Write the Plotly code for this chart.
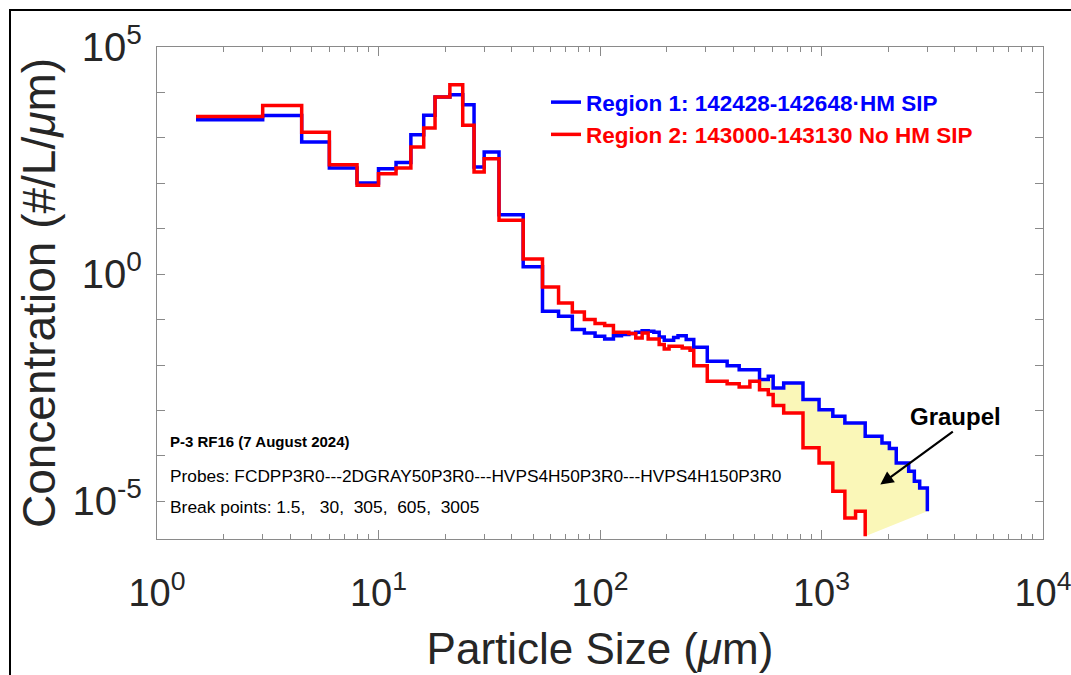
import math
import plotly.graph_objects as go

# ---------------- data ----------------
# bin lower edges (um); last entry of each *_edges list is the final edge
fcdp_edges = [1.5, 3, 4.5, 6, 8, 10, 12, 14, 16, 18, 21, 24, 27]
gray_edges = [30, 35, 45, 55, 65, 75, 85, 95, 105, 115, 125, 135, 145, 155,
              165, 175, 185, 195, 205, 215, 225, 235, 245, 255, 265, 275, 285, 295]
hvps50_edges = [305, 375, 425, 475, 525, 575]
hvps150_edges = [605, 675, 825, 975, 1125, 1275, 1425, 1575, 1725, 1875,
                 2025, 2175, 2325, 2475, 2625, 2775, 2925]
blue_end_edge = 3005
red_end_edge = 1575

# Region 1 (blue) concentrations (#/L/um)
blue_fcdp = [2500, 3100, 811, 217, 102, 210, 288, 1175, 3126, 7943, 8919, 5375, 229]
blue_gray = [489, 20.4, 1.45, 0.152, 0.118, 0.0601, 0.0508, 0.0428, 0.0375, 0.0443,
             0.0467, 0.0491, 0.0524, 0.0571, 0.0551, 0.0524, 0.0415, 0.0349, 0.0349,
             0.0401, 0.0443, 0.0443, 0.0362, 0.0362, 0.0245, 0.0245, 0.0245, 0.0245]
blue_hvps50 = [0.01205, 0.00968, 0.00791, 0.00791, 0.00477, 0.00564]
blue_hvps150 = [0.00313, 0.00404, 0.00173, 0.00104, 0.000743, 0.000531, 0.000531,
                0.000269, 0.000269, 0.000193, 0.000145, 7.0e-5, 7.0e-5, 4.57e-5,
                2.75e-5, 1.97e-5, 1.97e-5]
blue_end = 6.0e-6

# Region 2 (red) concentrations (#/L/um)
red_fcdp = [2970, 5188, 1321, 257, 90, 163, 217, 630, 1649, 7943, 14800, 1883, 177]
red_gray = [348, 15.3, 2.16, 0.523, 0.232, 0.147, 0.0998, 0.0815, 0.0736, 0.0524,
            0.0524, 0.0491, 0.0394, 0.0508, 0.0375, 0.0375, 0.0281, 0.0226, 0.0258,
            0.0258, 0.0258, 0.0238, 0.0238, 0.0210, 0.00968, 0.00968, 0.00968, 0.00968]
red_hvps50 = [0.00438, 0.00389, 0.00329, 0.00438, 0.00287, 0.00223]
red_hvps150 = [0.00128, 0.000881, 0.000150, 7.0e-5, 1.66e-5, 4.31e-6, 6.0e-6]
red_end = 1.7e-6

graupel_start_edge = 525
graupel_arrow_tip = (1843, 2.33e-5)   # (size um, concentration)

blue_name = "Region 1: 142428-142648\u00b7HM SIP"
red_name = "Region 2: 143000-143130 No HM SIP"

x_tickvals = [1, 10, 100, 1000, 10000]
x_ticktext = ["10<sup>0</sup>", "10<sup>1</sup>", "10<sup>2</sup>", "10<sup>3</sup>", "10<sup>4</sup>"]
y_tickvals = [1e-5, 1e-4, 1e-3, 1e-2, 1e-1, 1, 1e1, 1e2, 1e3, 1e4, 1e5]
y_ticktext = ["10<sup>-5</sup>", "", "", "", "", "10<sup>0</sup>", "", "", "", "", "10<sup>5</sup>"]
x_minor = [m * d for d in [1, 10, 100, 1000] for m in range(2, 10)]

# ---------------- assemble series ----------------
all_edges = fcdp_edges + gray_edges + hvps50_edges + hvps150_edges
blue_x = all_edges + [blue_end_edge]
blue_y = blue_fcdp + blue_gray + blue_hvps50 + blue_hvps150 + [blue_end]
red_bins = fcdp_edges + gray_edges + hvps50_edges + hvps150_edges[:len(red_hvps150)]
red_x = red_bins + [red_end_edge]
red_y = red_fcdp + red_gray + red_hvps50 + red_hvps150 + [red_end]


def stairs(xs, ys):
    px, py = [], []
    for i in range(len(xs) - 1):
        px += [xs[i], xs[i + 1]]
        py += [ys[i], ys[i]]
    px.append(xs[-1])
    py.append(ys[-1])
    return px, py


kb = blue_x.index(graupel_start_edge)
kr = red_x.index(graupel_start_edge)
ux, uy = stairs(blue_x[kb:], blue_y[kb:])
lx, ly = stairs(red_x[kr:], red_y[kr:])
fill_x = ux + lx[::-1] + [ux[0]]
fill_y = uy + ly[::-1] + [uy[0]]

FONT = "Liberation Sans, Arial, Helvetica, sans-serif"
TXT = "#262626"

# plot-area geometry (pixels) used for paper-coordinate placement
L, T, W, H = 157, 47, 886, 492


def px2paper(xp, yp):
    return (xp - L) / W, (T + H - yp) / H


fig = go.Figure()
fig.add_trace(go.Scatter(x=fill_x, y=fill_y, mode="lines", fill="toself",
                         fillcolor="rgb(250,247,184)", line=dict(width=0),
                         showlegend=False, hoverinfo="skip"))
fig.add_trace(go.Scatter(x=blue_x, y=blue_y, mode="lines", line_shape="hv",
                         line=dict(color="#0000FF", width=3.5),
                         name="<b><span style='color:#0000FF'>" + blue_name + "</span></b>"))
fig.add_trace(go.Scatter(x=red_x, y=red_y, mode="lines", line_shape="hv",
                         line=dict(color="#FF0000", width=3.5),
                         name="<b><span style='color:#FF0000'>" + red_name + "</span></b>"))

axis_common = dict(showgrid=False, zeroline=False, showline=True, linecolor="#8a8a8a",
                   linewidth=1.2, mirror="ticks", ticks="inside", tickcolor="#8a8a8a",
                   tickwidth=1.2)

fig.update_xaxes(type="log", range=[0, 4], tickmode="array", tickvals=x_tickvals,
                 ticktext=x_ticktext, ticklen=9, ticklabeloverflow="allow",
                 tickfont=dict(size=38, family=FONT, color=TXT),
                 minor=dict(tickmode="array", tickvals=x_minor, ticks="inside", ticklen=5,
                            tickcolor="#8a8a8a", tickwidth=1.2),
                 title=dict(text="Particle Size (<i>\u03bc</i>m)", standoff=20,
                            font=dict(size=44, family=FONT, color=TXT)),
                 ticklabelstandoff=20,
                 **axis_common)
fig.update_yaxes(type="log", range=[-5.83, 5], tickmode="array", tickvals=y_tickvals,
                 ticktext=y_ticktext, ticklen=8,
                 tickfont=dict(size=40, family=FONT, color=TXT),
                 title=dict(text="Concentration (#/L/<i>\u03bc</i>m)", standoff=2,
                            font=dict(size=46, family=FONT, color=TXT)),
                 ticklabelstandoff=6,
                 **axis_common)

# Graupel arrow (log axes: annotation positions in log10 units)
fig.add_annotation(x=math.log10(graupel_arrow_tip[0]), y=math.log10(graupel_arrow_tip[1]),
                   xref="x", yref="y", ax=74, ay=-54, axref="pixel", ayref="pixel",
                   text="", showarrow=True, arrowhead=2, arrowsize=1.2, arrowwidth=2.2,
                   arrowcolor="black")
gx, gy = px2paper(955, 416)
fig.add_annotation(x=gx, y=gy, xref="paper", yref="paper", xanchor="center", yanchor="middle",
                   text="<b>Graupel</b>", showarrow=False,
                   font=dict(size=24, family=FONT, color="black"))

# text block
tx, _ = px2paper(168, 0)
for ypix, txt, size in [
    (441, "<b>P-3 RF16 (7 August 2024)</b>", 15),
    (476, "Probes: FCDPP3R0---2DGRAY50P3R0---HVPS4H50P3R0---HVPS4H150P3R0", 17.3),
    (507, "Break points: 1.5,\u00a0\u00a0\u00a030,\u00a0\u00a0305,\u00a0\u00a0605,\u00a0\u00a03005", 17.4),
]:
    _, ty = px2paper(0, ypix)
    fig.add_annotation(x=tx, y=ty, xref="paper", yref="paper", xanchor="left", yanchor="middle",
                       text=txt, showarrow=False, font=dict(size=size, family=FONT, color="black"))

# outer figure border
bx0, by0 = px2paper(10, 690)
bx1, by1 = px2paper(1080, 10)
fig.add_shape(type="rect", xref="paper", yref="paper", x0=bx0, x1=bx1, y0=by0, y1=by1,
              line=dict(color="black", width=2), fillcolor="rgba(0,0,0,0)", layer="above")

lgx, lgy = px2paper(546, 81)
fig.update_layout(
    width=1071, height=675,
    margin=dict(l=L, r=1071 - L - W, t=T, b=675 - T - H, autoexpand=False),
    paper_bgcolor="white", plot_bgcolor="white",
    showlegend=True,
    legend=dict(x=lgx, y=lgy, xanchor="left", yanchor="top", bgcolor="rgba(0,0,0,0)",
                borderwidth=0, font=dict(size=22.5, family=FONT), tracegroupgap=4),
)

fig.write_html("out.html")
